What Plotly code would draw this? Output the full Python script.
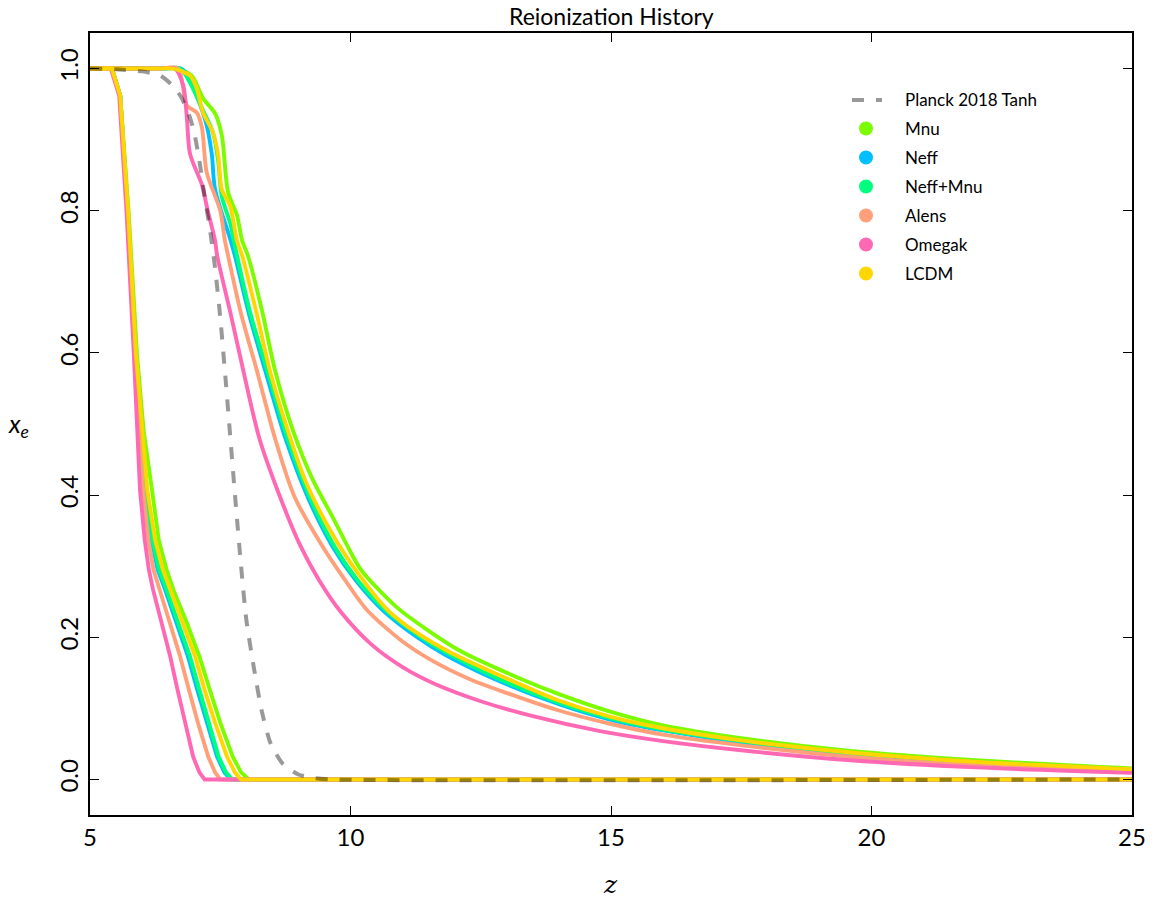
import plotly.graph_objects as go

# ---------------- data ----------------
models = ["Mnu", "Neff", "Neff+Mnu", "Alens", "Omegak", "LCDM"]
colors = ["#7CFC00", "#00BFFF", "#00FF7F", "#FFA07A", "#FF69B4", "#FFD700"]

# lower-bound curves (fast drop)
low_y = [1.0, 1.0, 0.962, 0.80, 0.60, 0.49, 0.407, 0.337, 0.295, 0.267, 0.22, 0.173, 0.126, 0.08, 0.032, 0.01, 0.0, 0.0]
low_z_mnu = [5.0, 5.42, 5.58, 5.74, 5.90, 6.03, 6.19, 6.32, 6.47, 6.60, 6.86, 7.10, 7.30, 7.50, 7.74, 7.90, 8.05, 25.0]
low_z_neff = [5.0, 5.42, 5.58, 5.72, 5.87, 5.97, 6.06, 6.18, 6.30, 6.44, 6.66, 6.88, 7.06, 7.25, 7.44, 7.58, 7.70, 25.0]
low_z_neffmnu = [5.0, 5.42, 5.58, 5.72, 5.87, 5.98, 6.07, 6.20, 6.33, 6.47, 6.70, 6.92, 7.10, 7.28, 7.47, 7.61, 7.73, 25.0]
low_z_alens = [5.0, 5.42, 5.58, 5.72, 5.86, 5.94, 6.02, 6.12, 6.22, 6.34, 6.54, 6.73, 6.90, 7.07, 7.27, 7.40, 7.50, 25.0]
low_z_omegak = [5.0, 5.40, 5.56, 5.70, 5.84, 5.91, 5.96, 6.05, 6.13, 6.21, 6.38, 6.54, 6.68, 6.82, 6.98, 7.10, 7.20, 25.0]
low_z_lcdm = [5.0, 5.42, 5.58, 5.73, 5.88, 6.00, 6.10, 6.25, 6.40, 6.54, 6.77, 7.02, 7.20, 7.40, 7.63, 7.78, 7.90, 25.0]

# upper-bound curves (slow tail)
up_z_mnu = [5.0, 5.5, 6.0, 6.35, 6.65, 6.95, 7.17, 7.40, 7.53, 7.65, 7.82, 7.92, 8.03, 8.30, 8.55, 8.90, 9.28, 9.65, 9.93, 10.20, 10.89, 11.50, 12.10, 13.25, 14.0, 15.0, 16.0, 17.5, 19.6, 22.0, 25.0]
up_y_mnu = [1.0, 1.0, 1.0, 1.0, 1.0, 0.99, 0.958, 0.937, 0.906, 0.826, 0.794, 0.758, 0.737, 0.66, 0.576, 0.49, 0.421, 0.37, 0.330, 0.295, 0.242, 0.209, 0.181, 0.142, 0.120, 0.095, 0.076, 0.058, 0.040, 0.027, 0.0155]

up_z_neff = [5.0, 5.5, 6.0, 6.4, 6.75, 6.92, 7.05, 7.24, 7.34, 7.40, 7.70, 7.78, 8.05, 8.36, 8.75, 9.18, 9.66, 10.10, 10.62, 11.30, 11.80, 12.74, 14.0, 15.0, 16.0, 17.5, 19.6, 22.0, 25.0]
up_y_neff = [1.0, 1.0, 1.0, 1.0, 1.0, 0.985, 0.962, 0.92, 0.878, 0.83, 0.758, 0.737, 0.655, 0.576, 0.48, 0.397, 0.327, 0.28, 0.238, 0.199, 0.176, 0.142, 0.106, 0.084, 0.069, 0.052, 0.036, 0.024, 0.013]

up_z_neffmnu = [5.0, 5.5, 6.0, 6.4, 6.73, 6.92, 7.15, 7.36, 7.46, 7.53, 7.70, 7.76, 8.08, 8.40, 8.79, 9.22, 9.70, 10.14, 10.66, 11.34, 11.85, 12.80, 14.0, 15.0, 16.0, 17.5, 19.6, 22.0, 25.0]
up_y_neffmnu = [1.0, 1.0, 1.0, 1.0, 1.0, 0.98, 0.944, 0.91, 0.87, 0.82, 0.78, 0.758, 0.655, 0.576, 0.48, 0.397, 0.327, 0.28, 0.239, 0.201, 0.178, 0.143, 0.108, 0.086, 0.070, 0.054, 0.037, 0.025, 0.014]

up_z_alens = [5.0, 5.5, 6.0, 6.35, 6.69, 6.86, 7.05, 7.15, 7.24, 7.50, 7.59, 7.65, 7.90, 8.20, 8.55, 8.93, 9.47, 9.90, 10.32, 11.00, 11.50, 12.29, 12.87, 14.0, 15.0, 16.0, 17.5, 19.6, 22.0, 25.0]
up_y_alens = [1.0, 1.0, 1.0, 1.0, 1.0, 0.948, 0.938, 0.916, 0.854, 0.80, 0.758, 0.737, 0.655, 0.576, 0.48, 0.397, 0.327, 0.28, 0.238, 0.194, 0.170, 0.141, 0.125, 0.097, 0.078, 0.063, 0.048, 0.032, 0.020, 0.011]

up_z_omegak = [5.0, 5.5, 6.0, 6.3, 6.63, 6.79, 6.86, 6.92, 7.15, 7.26, 7.40, 7.44, 7.70, 7.94, 8.25, 8.65, 9.03, 9.40, 9.80, 10.40, 11.0, 11.6, 12.5, 13.5, 14.79, 16.0, 17.5, 19.6, 22.0, 25.0]
up_y_omegak = [1.0, 1.0, 1.0, 1.0, 1.0, 0.976, 0.93, 0.88, 0.836, 0.80, 0.758, 0.737, 0.655, 0.576, 0.48, 0.397, 0.33, 0.28, 0.237, 0.19, 0.158, 0.135, 0.110, 0.089, 0.068, 0.054, 0.041, 0.027, 0.017, 0.0095]

up_z_lcdm = [5.0, 5.5, 6.0, 6.3, 6.60, 6.92, 7.05, 7.17, 7.36, 7.46, 7.53, 7.69, 7.82, 7.92, 8.20, 8.45, 8.80, 9.13, 9.50, 10.0, 10.72, 11.30, 11.91, 13.0, 14.0, 15.0, 16.0, 17.5, 19.6, 22.0, 25.0]
up_y_lcdm = [1.0, 1.0, 1.0, 1.0, 1.0, 0.99, 0.972, 0.938, 0.91, 0.878, 0.83, 0.807, 0.758, 0.737, 0.655, 0.576, 0.49, 0.421, 0.365, 0.305, 0.238, 0.205, 0.179, 0.142, 0.111, 0.088, 0.072, 0.055, 0.038, 0.025, 0.0145]

# Planck 2018 tanh model
planck_label = "Planck 2018 Tanh"
planck_z = [5.0, 5.5, 6.0, 6.35, 6.6, 6.75, 6.9, 7.0, 7.1, 7.2, 7.3, 7.4, 7.5, 7.6, 7.7, 7.8, 7.9, 8.0, 8.15, 8.3, 8.47, 8.7, 9.0, 9.3, 9.6, 25.0]
planck_xe = [1.0, 0.999, 0.996, 0.99, 0.975, 0.96, 0.935, 0.91, 0.87, 0.82, 0.775, 0.72, 0.65, 0.565, 0.475, 0.385, 0.30, 0.225, 0.155, 0.095, 0.05, 0.022, 0.007, 0.002, 0.0, 0.0]

x_ticks = [5, 10, 15, 20, 25]
y_ticks = [0.0, 0.2, 0.4, 0.6, 0.8, 1.0]

lower = {
    "Mnu": (low_z_mnu, low_y), "Neff": (low_z_neff, low_y), "Neff+Mnu": (low_z_neffmnu, low_y),
    "Alens": (low_z_alens, low_y), "Omegak": (low_z_omegak, low_y), "LCDM": (low_z_lcdm, low_y),
}
upper = {
    "Mnu": (up_z_mnu, up_y_mnu), "Neff": (up_z_neff, up_y_neff), "Neff+Mnu": (up_z_neffmnu, up_y_neffmnu),
    "Alens": (up_z_alens, up_y_alens), "Omegak": (up_z_omegak, up_y_omegak), "LCDM": (up_z_lcdm, up_y_lcdm),
}

FONT = "Lato"
PLANCK_COLOR = "rgba(0,0,0,0.4)"
LW = 3.9
fig = go.Figure()

for m, c in zip(models, colors):
    zz, yy = lower[m]
    fig.add_trace(go.Scatter(x=zz, y=yy, mode="lines", name=m, line=dict(color=c, width=LW),
                             showlegend=False, hoverinfo="skip"))
    zz, yy = upper[m]
    fig.add_trace(go.Scatter(x=zz, y=yy, mode="lines", name=m,
                             line=dict(color=c, width=LW, shape="spline", smoothing=0.8),
                             showlegend=False, hoverinfo="skip"))

fig.add_trace(go.Scatter(x=planck_z, y=planck_xe, mode="lines", name=planck_label, showlegend=False,
                         line=dict(color=PLANCK_COLOR, width=4, dash="12px,12px",
                                   shape="spline", smoothing=0.6)))

axis_common = dict(showline=True, linecolor="black", linewidth=2, mirror="ticks",
                   ticks="inside", ticklen=9, tickwidth=1.2, tickcolor="black",
                   showgrid=False, zeroline=False, tickfont=dict(family=FONT, size=24, color="black"))

fig.update_xaxes(range=[5, 25], tickvals=x_ticks, ticktext=[str(v) for v in x_ticks], **axis_common)
fig.update_yaxes(range=[-0.05, 1.05], tickvals=y_ticks, ticktext=[f"{v:.1f}" for v in y_ticks],
                 tickangle=-90, **axis_common)

# ---- hand-drawn legend (placed in paper coordinates) ----
plot_l, plot_w, plot_b, plot_h = 90, 1042, 815, 782
def px_x(px):
    return (px - plot_l) / plot_w
def px_y(py):
    return (plot_b - py) / plot_h

legend_rows = [100, 128.5, 157.5, 186.5, 215.5, 244.5, 273.5]
sym_x = px_x(866)
text_x = px_x(903)
shapes = [dict(type="line", xref="paper", yref="paper", x0=px_x(852), x1=px_x(882),
               y0=px_y(legend_rows[0]), y1=px_y(legend_rows[0]),
               line=dict(color=PLANCK_COLOR, width=4, dash="12px,12px"))]
annotations = [dict(text=planck_label, x=text_x, y=px_y(legend_rows[0]), xref="paper", yref="paper",
                    xanchor="left", yanchor="middle", showarrow=False,
                    font=dict(family=FONT, size=17, color="black"))]
for m, c, row in zip(models, colors, legend_rows[1:]):
    shapes.append(dict(type="circle", xref="paper", yref="paper", xsizemode="pixel", ysizemode="pixel",
                       xanchor=sym_x, yanchor=px_y(row), x0=-7, x1=7, y0=-7, y1=7,
                       fillcolor=c, line=dict(width=0)))
    annotations.append(dict(text=m, x=text_x, y=px_y(row), xref="paper", yref="paper",
                            xanchor="left", yanchor="middle", showarrow=False,
                            font=dict(family=FONT, size=17, color="black")))

annotations += [
    dict(text="<i>x<sub>e</sub></i>", x=-0.069, y=0.499, xref="paper", yref="paper",
         xanchor="center", yanchor="middle",
         showarrow=False, font=dict(family=FONT, size=25, color="black")),
    dict(text="<i>z</i>", x=0.4995, y=-0.0895, xref="paper", yref="paper",
         xanchor="center", yanchor="middle",
         showarrow=False, font=dict(family="DejaVu Serif", size=25, color="black")),
    dict(text="Reionization History", x=0.5, y=1.0, xref="paper", yref="paper",
         xanchor="center", yanchor="bottom", yshift=1, showarrow=False,
         font=dict(family=FONT, size=23, color="black")),
]

fig.update_layout(
    width=1157, height=900,
    margin=dict(l=90, r=25, t=33, b=85),
    plot_bgcolor="white", paper_bgcolor="white",
    showlegend=False,
    shapes=shapes,
    annotations=annotations,
)

fig.write_html("out.html")
